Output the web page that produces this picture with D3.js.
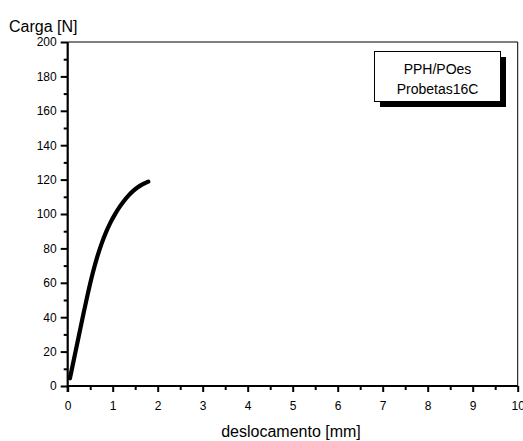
<!DOCTYPE html>
<html>
<head>
<meta charset="utf-8">
<script src="https://cdn.jsdelivr.net/npm/d3@7"></script>
<style>
  html, body { margin: 0; padding: 0; background: #fff; }
  svg { display: block; font-family: "Liberation Sans", Arial, sans-serif; }
</style>
</head>
<body>
<svg id="chart" width="523" height="441"></svg>
<script>
// Load–displacement curve for the PPH/POes specimen
const displacement = [0.05, 0.15, 0.25, 0.35, 0.45, 0.55, 0.65, 0.75, 0.85, 0.95, 1.05, 1.15, 1.25, 1.35, 1.45, 1.55, 1.65, 1.79];
const load         = [4.5, 17, 29.5, 42, 54, 65, 74.5, 82.5, 89.3, 95, 99.8, 104, 107.6, 110.7, 113.3, 115.4, 117.1, 118.8];

const xTicks = [0, 1, 2, 3, 4, 5, 6, 7, 8, 9, 10];
const yTicks = [0, 20, 40, 60, 80, 100, 120, 140, 160, 180, 200];
const legendLines = ["PPH/POes", "Probetas16C"];

const svg = d3.select("#chart");
const x = d3.scaleLinear().domain([0, 10]).range([67.7, 517.7]);
const y = d3.scaleLinear().domain([0, 200]).range([386, 42]);

// thin frame on top and right
svg.append("line").attr("x1", x(0)).attr("x2", x(10)).attr("y1", y(200)).attr("y2", y(200))
  .attr("stroke", "#000").attr("stroke-width", 1);
svg.append("line").attr("x1", x(10)).attr("x2", x(10)).attr("y1", y(200)).attr("y2", y(0))
  .attr("stroke", "#000").attr("stroke-width", 1);

// minor ticks
const xMinor = d3.range(0.5, 10, 1);
const yMinor = d3.range(10, 200, 20);

const xAxis = svg.append("g").attr("transform", `translate(0,${y(0)})`)
  .call(d3.axisBottom(x).tickValues(xTicks).tickFormat(d3.format("d")).tickSize(6).tickPadding(9));
svg.append("g").attr("transform", `translate(0,${y(0)})`)
  .call(d3.axisBottom(x).tickValues(xMinor).tickFormat("").tickSize(4))
  .call(g => g.select(".domain").remove());

const yAxis = svg.append("g").attr("transform", `translate(${x(0)},0)`)
  .call(d3.axisLeft(y).tickValues(yTicks).tickFormat(d3.format("d")).tickSize(7).tickPadding(4));
svg.append("g").attr("transform", `translate(${x(0)},0)`)
  .call(d3.axisLeft(y).tickValues(yMinor).tickFormat("").tickSize(4))
  .call(g => g.select(".domain").remove());

svg.selectAll(".tick line").attr("stroke", "#000").attr("stroke-width", 2);
svg.selectAll(".domain").attr("stroke", "#000").attr("stroke-width", 2.2);
svg.selectAll(".tick text").attr("fill", "#000").style("font-size", "12px")
  .style("font-family", "'Liberation Sans', Arial, sans-serif");
xAxis.select(".domain").attr("d", `M${x(0)},0H${x(10)}`);
yAxis.select(".domain").attr("d", `M0,${y(0) + 6}V${y(200)}`);

// curve
svg.append("path")
  .datum(displacement.map((d, i) => [d, load[i]]))
  .attr("fill", "none").attr("stroke", "#000").attr("stroke-width", 4.2)
  .attr("stroke-linecap", "round").attr("stroke-linejoin", "round")
  .attr("d", d3.line().x(d => x(d[0])).y(d => y(d[1])).curve(d3.curveCatmullRom.alpha(0.5)));

// titles
svg.append("text").attr("x", 9).attr("y", 32).style("font-size", "16px").text("Carga [N]");
svg.append("text").attr("x", 291).attr("y", 437).attr("text-anchor", "middle")
  .style("font-size", "16px").text("deslocamento [mm]");

// legend box with drop shadow
const lg = svg.append("g");
lg.append("rect").attr("x", 380).attr("y", 57).attr("width", 126).attr("height", 50).attr("fill", "#000");
lg.append("rect").attr("x", 374.5).attr("y", 51.5).attr("width", 126).attr("height", 50)
  .attr("fill", "#fff").attr("stroke", "#000").attr("stroke-width", 1);
lg.selectAll("text.leg").data(legendLines).join("text").attr("class", "leg")
  .attr("x", 437.5).attr("y", (d, i) => 74 + i * 20).attr("text-anchor", "middle")
  .style("font-size", "14px").text(d => d);
</script>
</body>
</html>
